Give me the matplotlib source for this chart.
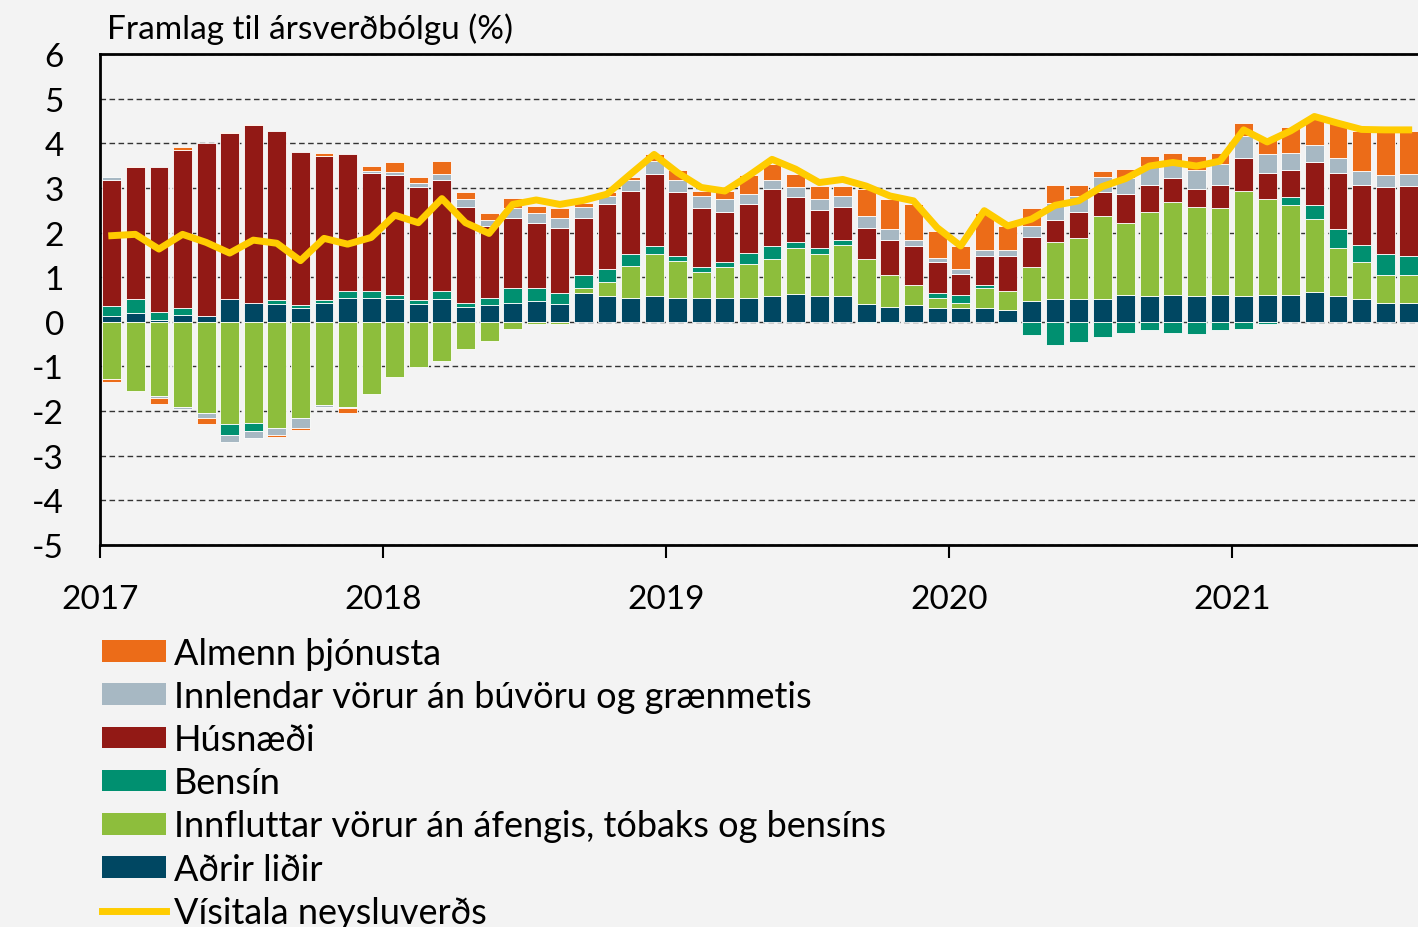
import numpy as np
import matplotlib
matplotlib.use("Agg")
import matplotlib.pyplot as plt
from matplotlib.patches import Patch
from matplotlib.lines import Line2D

plt.rcParams['font.family'] = ['Lato', 'DejaVu Sans']
plt.rcParams['axes.unicode_minus'] = False

# monthly, Jan 2017 - Aug 2021
years = ['2017', '2018', '2019', '2020', '2021']

adrir = [0.12, 0.19, 0.04, 0.15, 0.12, 0.51, 0.43, 0.40, 0.30, 0.43,
         0.54, 0.54, 0.51, 0.40, 0.51, 0.33, 0.37, 0.43, 0.47, 0.40,
         0.65, 0.58, 0.54, 0.58, 0.54, 0.54, 0.54, 0.54, 0.58, 0.62,
         0.58, 0.58, 0.40, 0.33, 0.37, 0.30, 0.30, 0.30, 0.26, 0.47,
         0.51, 0.51, 0.51, 0.61, 0.58, 0.61, 0.58, 0.61, 0.58, 0.61,
         0.61, 0.66, 0.58, 0.51, 0.43, 0.43]
innflutt = [-1.27, -1.55, -1.67, -1.90, -2.04, -2.30, -2.27, -2.37, -2.16, -1.87,
            -1.90, -1.62, -1.23, -1.01, -0.87, -0.62, -0.44, -0.16, -0.05, -0.05,
            0.10, 0.32, 0.71, 0.93, 0.83, 0.57, 0.68, 0.75, 0.82, 1.03,
            0.93, 1.14, 1.00, 0.71, 0.46, 0.24, 0.13, 0.45, 0.43, 0.75,
            1.28, 1.36, 1.85, 1.61, 1.88, 2.07, 1.99, 1.93, 2.35, 2.15,
            2.00, 1.64, 1.07, 0.82, 0.61, 0.61]
bensin = [0.24, 0.32, 0.18, 0.15, 0.00, -0.24, -0.18, 0.10, 0.07, 0.07,
          0.15, 0.15, 0.10, 0.10, 0.18, 0.10, 0.17, 0.32, 0.28, 0.25,
          0.29, 0.29, 0.26, 0.18, 0.10, 0.11, 0.11, 0.25, 0.29, 0.14,
          0.14, 0.11, -0.03, -0.03, 0.00, 0.11, 0.18, 0.08, -0.03, -0.30,
          -0.52, -0.45, -0.34, -0.24, -0.19, -0.24, -0.28, -0.19, -0.16, -0.05,
          0.18, 0.31, 0.42, 0.39, 0.47, 0.43]
husnaedi = [2.82, 2.96, 3.24, 3.56, 3.88, 3.71, 3.97, 3.78, 3.44, 3.22,
            3.06, 2.64, 2.68, 2.51, 2.49, 2.14, 1.61, 1.58, 1.47, 1.46,
            1.29, 1.46, 1.42, 1.63, 1.43, 1.32, 1.14, 1.11, 1.28, 1.00,
            0.86, 0.74, 0.71, 0.79, 0.86, 0.68, 0.46, 0.64, 0.78, 0.68,
            0.49, 0.60, 0.54, 0.64, 0.61, 0.54, 0.40, 0.53, 0.75, 0.57,
            0.61, 0.96, 1.26, 1.35, 1.50, 1.57]
innlendar = [0.07, 0.00, -0.03, -0.06, -0.12, -0.15, -0.16, -0.17, -0.21, -0.03,
             -0.04, 0.04, 0.07, 0.10, 0.14, 0.18, 0.14, 0.21, 0.21, 0.22,
             0.24, 0.17, 0.25, 0.28, 0.28, 0.28, 0.28, 0.21, 0.21, 0.22,
             0.24, 0.25, 0.25, 0.24, 0.14, 0.10, 0.12, 0.14, 0.14, 0.25,
             0.38, 0.35, 0.35, 0.37, 0.42, 0.31, 0.43, 0.47, 0.48, 0.42,
             0.39, 0.40, 0.35, 0.30, 0.27, 0.28]
almenn = [-0.07, 0.02, -0.14, 0.06, -0.14, 0.03, 0.03, -0.04, -0.06, 0.06,
          -0.10, 0.12, 0.21, 0.14, 0.28, 0.15, 0.14, 0.24, 0.17, 0.22,
          0.10, 0.08, 0.07, 0.15, 0.22, 0.11, 0.18, 0.43, 0.35, 0.31,
          0.29, 0.22, 0.61, 0.69, 0.82, 0.61, 0.50, 0.82, 0.54, 0.39,
          0.41, 0.25, 0.12, 0.20, 0.23, 0.26, 0.32, 0.25, 0.30, 0.37,
          0.57, 0.58, 0.77, 0.91, 1.00, 0.96]
vnv = [1.93, 1.96, 1.63, 1.96, 1.78, 1.54, 1.83, 1.76, 1.37, 1.87,
       1.74, 1.89, 2.39, 2.22, 2.76, 2.22, 1.98, 2.63, 2.73, 2.63,
       2.72, 2.86, 3.31, 3.75, 3.34, 3.01, 2.93, 3.27, 3.64, 3.42,
       3.12, 3.19, 3.04, 2.82, 2.71, 2.11, 1.70, 2.49, 2.15, 2.30,
       2.61, 2.71, 3.03, 3.21, 3.49, 3.57, 3.49, 3.60, 4.30, 4.03,
       4.28, 4.60, 4.45, 4.31, 4.30, 4.30]

# stacking order bottom -> top
series = [
    ('Aðrir liðir', adrir, '#004762'),
    ('Innfluttar vörur án áfengis, tóbaks og bensíns', innflutt, '#8DBE3C'),
    ('Bensín', bensin, '#009070'),
    ('Húsnæði', husnaedi, '#921915'),
    ('Innlendar vörur án búvöru og grænmetis', innlendar, '#A7B8C3'),
    ('Almenn þjónusta', almenn, '#EC6C18'),
]
line_col = '#FFCC00'
bg = '#F3F3F3'

fig = plt.figure(figsize=(14.18, 9.28), dpi=100, facecolor=bg)
ax = fig.add_axes([100/1418, (928-546)/928, 1318/1418, 491/928], facecolor=bg)

x = np.arange(len(vnv)) + 0.5
pos = np.zeros(len(x))
neg = np.zeros(len(x))
for name, vals, col in series:
    v = np.array(vals)
    bottom = np.where(v >= 0, pos, neg)
    ax.bar(x, v, width=0.8, bottom=bottom, color=col, edgecolor='white', linewidth=0.6, zorder=2)
    pos = pos + np.where(v >= 0, v, 0)
    neg = neg + np.where(v < 0, v, 0)

ax.plot(x, vnv, color=line_col, lw=5, zorder=3, solid_joinstyle='round')

ax.set_xlim(0, 1318/23.58)
ax.set_ylim(-5, 6)
ax.set_yticks(range(-5, 7))
ax.set_yticklabels([str(i) for i in range(-5, 7)])
ax.set_xticks([0, 12, 24, 36, 48])
ax.set_xticklabels(years)
ax.tick_params(axis='y', length=0, pad=26, labelsize=24)
ax.tick_params(axis='x', direction='out', length=9, width=1.5, pad=19, labelsize=24)
ax.grid(axis='y', linestyle=(0, (4, 2.5)), lw=1, color='#333333', zorder=0)
ax.set_axisbelow(True)
for s in ['left', 'bottom', 'top']:
    ax.spines[s].set_linewidth(2)
    ax.spines[s].set_color('black')
ax.spines['right'].set_visible(False)

fig.text(107/1418, 1-45/928, 'Framlag til ársverðbólgu (%)', fontsize=24, va='bottom', ha='left')

handles = [Patch(facecolor=col, label=name) for name, vals, col in series[::-1]]
handles.append(Line2D([], [], color=line_col, lw=5, label='Vísitala neysluverðs'))
fig.legend(handles=handles, loc='upper left', bbox_to_anchor=(102/1418, 1-638/928),
           frameon=False, fontsize=26, handlelength=1.77, handleheight=0.55,
           handletextpad=0.22, labelspacing=0.28, borderpad=0, borderaxespad=0)

fig.savefig('out.png', dpi=100, facecolor=bg)
